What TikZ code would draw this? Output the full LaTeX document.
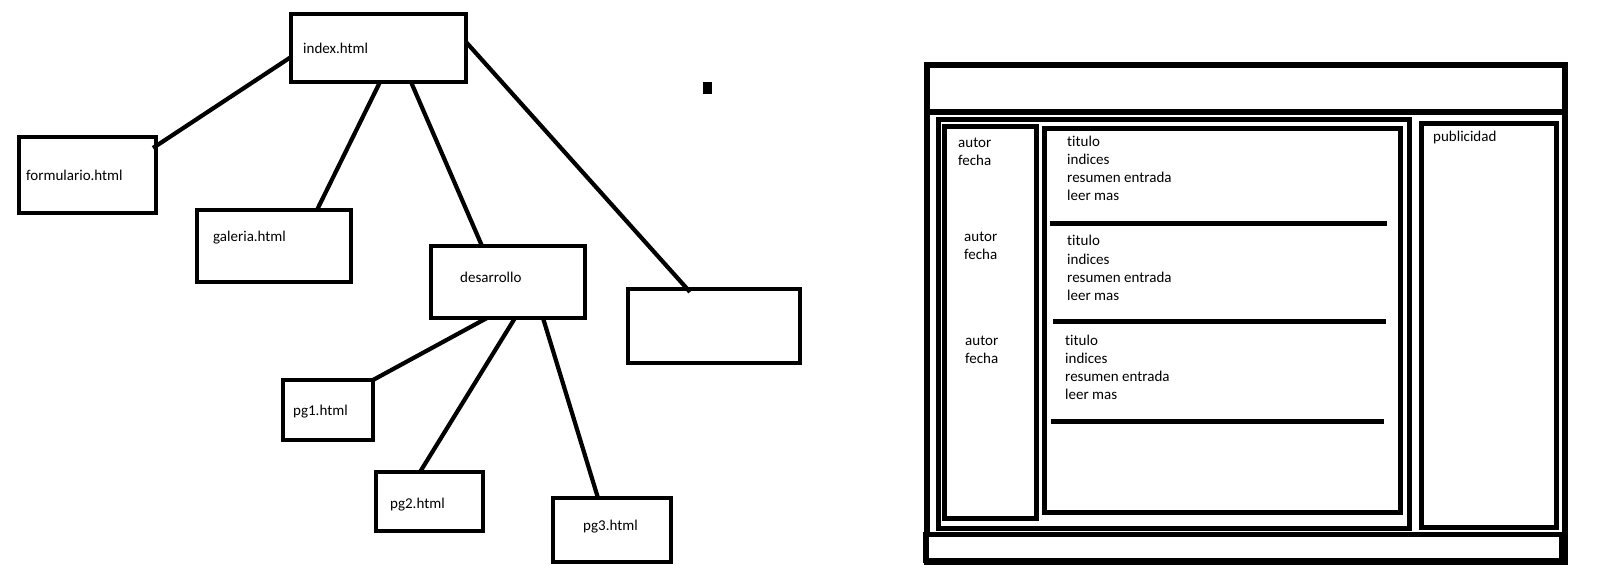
\documentclass[tikz,border=0pt]{standalone}
\usepackage{fontspec}
\setmainfont{Carlito}[Ligatures=NoCommon]
\usetikzlibrary{positioning}

\begin{document}
\begin{tikzpicture}[x=1pt,y=-1pt,
    htmlbox/.style={draw,line width=4.6pt,inner sep=0pt,outer sep=0pt},
    conn/.style={line width=4.2pt},
    txt/.style={inner sep=0pt,anchor=base west,font=\fontsize{15}{18}\selectfont}]
    \useasboundingbox (0,0) rectangle (1617,580);

    % site map
    \node[htmlbox,minimum width=175pt,minimum height=68pt] (index) at (378.5,48) {};
    \node[htmlbox,minimum width=137pt,minimum height=76pt] (formulario) at (87.5,175) {};
    \node[htmlbox,minimum width=154pt,minimum height=72pt] (galeria) at (274,246) {};
    \node[htmlbox,minimum width=154pt,minimum height=72pt] (desarrollo) at (508,282) {};
    \node[htmlbox,minimum width=172pt,minimum height=74pt] (vacio) at (714,326) {};
    \node[htmlbox,minimum width=90pt,minimum height=60pt] (pg1) at (328,410) {};
    \node[htmlbox,minimum width=107pt,minimum height=59pt] (pg2) at (429.5,501.5) {};
    \node[htmlbox,minimum width=118pt,minimum height=64pt] (pg3) at (612,530) {};

    \node[txt] (tindex) at (303,54) {index.html};
    \node[txt] (tformulario) at (26,181) {formulario.html};
    \node[txt] (tgaleria) at (213,242) {galeria.html};
    \node[txt] (tdesarrollo) at (460,282) {desarrollo};
    \node[txt] (tpg1) at (293,415) {pg1.html};
    \node[txt] (tpg2) at (390,508) {pg2.html};
    \node[txt] (tpg3) at (583,530) {pg3.html};

    \draw[conn] ([yshift=-9pt]index.west) -- ([shift={(-3pt,-11pt)}]formulario.north east);
    \draw[conn] ([xshift=1.5pt]index.south) -- ([xshift=43pt]galeria.north);
    \draw[conn] ([xshift=32.5pt]index.south) -- ([xshift=-26pt]desarrollo.north);
    \draw[conn] ([yshift=6pt]index.east) -- ([shift={(-24pt,-3pt)}]vacio.north);
    \draw[conn] ([xshift=-21pt]desarrollo.south) -- (pg1.north east);
    \draw[conn] ([xshift=7pt]desarrollo.south) -- ([xshift=-9.5pt]pg2.north);
    \draw[conn] ([xshift=35pt]desarrollo.south) -- ([xshift=-14pt]pg3.north);

    \fill (703,82) rectangle (712,94);

    % page layout
    \def\lw{5pt}
    \draw[line width=6pt] (927,65.5) rectangle (1565,562);
    \draw[line width=5.5pt] (927,112) -- (1565,112);
    \draw[line width=\lw] (938.5,120) rectangle (1409.5,528.5);
    \draw[line width=\lw] (944.5,127) rectangle (1036.5,518.5);
    \draw[line width=\lw] (1044.5,128.5) rectangle (1400.5,512.5);
    \draw[line width=\lw] (1421.5,123.5) rectangle (1556.5,527.5);
    \draw[line width=5.5pt,fill=white] (926,534.5) rectangle (1562,560.5);
    \foreach \xa/\xb/\y in {1050/1387/223.5,1053/1386/321.5,1051/1384/421.5}
        \draw[line width=\lw] (\xa,\y) -- (\xb,\y);

    \node[txt] (publicidad) at (1433,142) {publicidad};
    \foreach \ax/\ab/\tx/\tb [count=\i] in {958/148/1067/147,964/241/1067/246,965/345/1065/345.5}{
        \node[txt] (autor\i) at (\ax,\ab) {autor};
        \node[txt] (fecha\i) at (\ax,\ab+18) {fecha};
        \foreach \t [count=\k from 0] in {titulo,indices,resumen entrada,leer mas}
            \node[txt] (entrada\i\k) at (\tx,{\tb+18*\k}) {\t};
    }
\end{tikzpicture}
\end{document}
